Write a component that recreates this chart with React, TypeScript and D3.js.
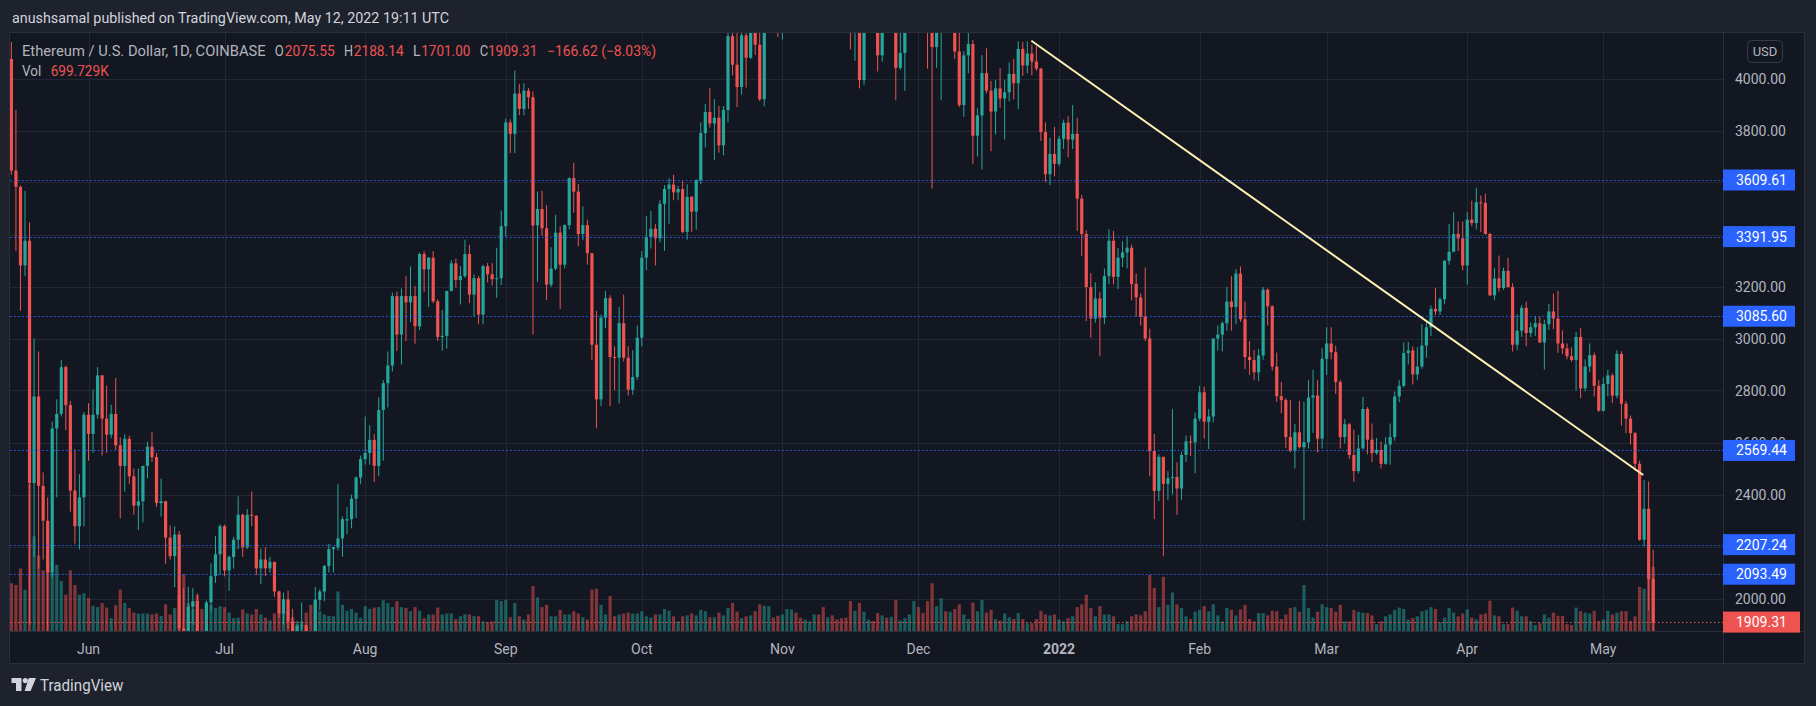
import React, { useEffect, useRef } from "react";
import * as d3 from "d3";

// ETH/USD daily candles (Coinbase).
// each row: open, high, low, close, volume (thousands)
type Bar = [number, number, number, number, number];

const may2021: Bar[] = [
  [4075, 4140, 3630, 3646, 520], [3646, 3879, 3336, 3583, 500], [3583, 3589, 3107, 3281, 680],
  [3281, 3568, 3240, 3376, 450], [3376, 3447, 1900, 2444, 1600], [2444, 3000, 2160, 2777, 1030],
  [2777, 2950, 2115, 2433, 820], [2433, 2485, 2150, 2299, 660], [2299, 2389, 1730, 2101, 800],
  [2101, 2681, 2080, 2654, 640], [2654, 2766, 2389, 2710, 720], [2710, 2917, 2700, 2890, 545],
  [2890, 2895, 2648, 2744, 395], [2744, 2760, 2334, 2415, 660], [2415, 2574, 2211, 2278, 500],
  [2278, 2478, 2189, 2389, 395], [2389, 2717, 2278, 2707, 410],
];
const jun2021: Bar[] = [
  [2707, 2751, 2530, 2633, 360], [2633, 2803, 2560, 2707, 275], [2707, 2890, 2692, 2858, 260],
  [2858, 2860, 2550, 2692, 305], [2692, 2818, 2560, 2630, 255], [2630, 2745, 2616, 2710, 140],
  [2710, 2848, 2572, 2589, 280], [2589, 2620, 2308, 2510, 450], [2510, 2632, 2411, 2614, 305],
  [2614, 2626, 2440, 2470, 250], [2470, 2500, 2322, 2357, 200], [2357, 2500, 2263, 2374, 190],
  [2374, 2510, 2293, 2510, 190], [2510, 2603, 2462, 2584, 190], [2584, 2640, 2525, 2544, 180],
  [2544, 2560, 2352, 2367, 190], [2367, 2461, 2315, 2374, 165], [2374, 2376, 2133, 2234, 290],
  [2234, 2281, 2150, 2163, 180], [2163, 2278, 2044, 2246, 250], [2246, 2260, 1870, 1885, 390],
  [1885, 2040, 1700, 1875, 620], [1875, 2045, 1860, 1968, 305], [1968, 2040, 1900, 1990, 240],
  [1990, 2020, 1800, 1830, 390], [1830, 1870, 1720, 1815, 240], [1815, 1992, 1800, 1985, 305],
  [1985, 2135, 1950, 2086, 285], [2086, 2240, 2060, 2170, 250], [2170, 2285, 2090, 2278, 270],
];
const jul2021: Bar[] = [
  [2278, 2284, 2085, 2108, 260], [2108, 2165, 2030, 2160, 200], [2160, 2237, 2115, 2226, 140],
  [2226, 2393, 2190, 2322, 145], [2322, 2327, 2160, 2197, 235], [2197, 2344, 2190, 2322, 190],
  [2322, 2411, 2278, 2318, 180], [2318, 2320, 2090, 2116, 240], [2116, 2192, 2056, 2150, 180],
  [2150, 2197, 2086, 2116, 145], [2116, 2160, 2100, 2141, 115], [2141, 2141, 2006, 2027, 190],
  [2027, 2030, 1925, 1942, 190], [1942, 2023, 1901, 1997, 210], [1997, 2030, 1885, 1912, 220],
  [1912, 1960, 1855, 1875, 150], [1875, 1915, 1855, 1895, 75], [1895, 1985, 1875, 1897, 105],
  [1897, 1900, 1805, 1820, 200], [1820, 1825, 1718, 1785, 285], [1785, 2045, 1760, 1995, 345],
  [1995, 2035, 1955, 2027, 215], [2027, 2130, 1990, 2125, 180], [2125, 2210, 2100, 2190, 165],
  [2190, 2200, 2100, 2197, 160], [2197, 2440, 2185, 2231, 430], [2231, 2315, 2160, 2305, 285],
  [2300, 2352, 2248, 2305, 220], [2305, 2400, 2270, 2384, 240], [2384, 2470, 2310, 2465, 200],
  [2465, 2550, 2440, 2536, 145],
];
const aug2021: Bar[] = [
  [2536, 2700, 2515, 2560, 270], [2560, 2666, 2515, 2610, 240], [2610, 2632, 2448, 2510, 255],
  [2510, 2774, 2470, 2725, 260], [2725, 2840, 2530, 2828, 335], [2828, 2950, 2735, 2896, 305],
  [2896, 3176, 2873, 3163, 260], [3163, 3180, 2952, 3015, 325], [3015, 3192, 2900, 3163, 260],
  [3163, 3240, 2990, 3139, 250], [3139, 3277, 3063, 3163, 215], [3163, 3202, 2980, 3047, 260],
  [3047, 3331, 3032, 3325, 220], [3325, 3336, 3180, 3266, 140], [3266, 3313, 3121, 3311, 180],
  [3311, 3336, 3136, 3143, 180], [3143, 3151, 2990, 3006, 255], [3006, 3110, 2953, 3010, 180],
  [3010, 3183, 2961, 3183, 190], [3183, 3302, 3181, 3289, 190], [3289, 3307, 3196, 3225, 130],
  [3225, 3278, 3131, 3240, 160], [3240, 3380, 3233, 3325, 180], [3325, 3360, 3136, 3169, 180],
  [3169, 3247, 3084, 3232, 165], [3232, 3240, 3055, 3092, 160], [3092, 3284, 3055, 3278, 105],
  [3278, 3290, 3216, 3247, 95], [3247, 3290, 3203, 3228, 105], [3228, 3349, 3157, 3232, 340],
  [3232, 3492, 3206, 3432, 325],
];
const sep2021: Bar[] = [
  [3432, 3846, 3391, 3831, 340], [3831, 3843, 3713, 3787, 150], [3787, 4031, 3713, 3942, 305],
  [3942, 3979, 3859, 3883, 160], [3883, 3982, 3859, 3953, 125], [3953, 3964, 3883, 3928, 180],
  [3928, 3950, 3015, 3435, 490], [3435, 3565, 3218, 3498, 365], [3498, 3568, 3395, 3424, 260],
  [3424, 3513, 3148, 3207, 285], [3207, 3351, 3198, 3269, 160], [3269, 3476, 3262, 3407, 160],
  [3407, 3432, 3114, 3284, 230], [3284, 3439, 3270, 3436, 180], [3436, 3620, 3420, 3617, 180],
  [3617, 3676, 3484, 3565, 215], [3565, 3594, 3355, 3402, 190], [3402, 3508, 3378, 3436, 150],
  [3436, 3457, 3284, 3328, 125], [3328, 3328, 2917, 2976, 450], [2976, 3106, 2655, 2766, 460],
  [2766, 3092, 2740, 3080, 285], [3080, 3183, 3040, 3155, 180], [3155, 3166, 2740, 2929, 380],
  [2929, 2970, 2801, 2926, 160], [2926, 3121, 2750, 3059, 180], [3059, 3169, 2912, 2926, 190],
  [2926, 2970, 2781, 2803, 200], [2803, 2955, 2784, 2852, 190], [2852, 3050, 2841, 3003, 190],
];
const oct2021: Bar[] = [
  [3003, 3337, 2970, 3311, 215], [3311, 3472, 3262, 3391, 160], [3391, 3491, 3346, 3422, 145],
  [3422, 3440, 3281, 3385, 180], [3385, 3533, 3370, 3518, 180], [3518, 3590, 3337, 3575, 240],
  [3575, 3616, 3441, 3592, 220], [3592, 3630, 3532, 3562, 160], [3562, 3587, 3532, 3575, 105],
  [3575, 3605, 3405, 3410, 160], [3410, 3593, 3380, 3545, 170], [3545, 3548, 3410, 3488, 190],
  [3488, 3612, 3418, 3609, 170], [3609, 3831, 3594, 3790, 230], [3790, 3902, 3735, 3871, 215],
  [3871, 3963, 3811, 3827, 150], [3827, 3920, 3687, 3849, 150], [3849, 3895, 3715, 3743, 200],
  [3743, 3894, 3705, 3879, 170], [3879, 4190, 3832, 4163, 250], [4163, 4375, 4012, 4053, 305],
  [4053, 4180, 3890, 3967, 210], [3967, 4180, 3938, 4166, 140], [4166, 4200, 3965, 4080, 160],
  [4080, 4230, 4075, 4220, 170], [4220, 4295, 4090, 4130, 215], [4130, 4300, 3913, 3920, 290],
  [3920, 4300, 3893, 4290, 275], [4290, 4460, 4270, 4420, 270], [4420, 4430, 4180, 4325, 145],
  [4325, 4400, 4160, 4290, 165],
];
const nov2021: Bar[] = [
  [4290, 4380, 4150, 4320, 180], [4320, 4600, 4300, 4590, 240], [4590, 4665, 4460, 4605, 235],
  [4605, 4620, 4440, 4530, 200], [4530, 4570, 4440, 4480, 145], [4480, 4530, 4330, 4520, 125],
  [4520, 4630, 4510, 4620, 105], [4620, 4830, 4610, 4810, 180], [4810, 4840, 4710, 4735, 180],
  [4735, 4870, 4460, 4635, 260], [4635, 4780, 4570, 4720, 150], [4720, 4810, 4500, 4665, 170],
  [4665, 4700, 4550, 4650, 125], [4650, 4690, 4520, 4625, 140], [4625, 4770, 4540, 4565, 145],
  [4565, 4570, 4112, 4215, 325], [4215, 4300, 4068, 4290, 220], [4290, 4345, 3962, 3994, 305],
  [3994, 4330, 3976, 4310, 210], [4310, 4440, 4200, 4425, 125], [4425, 4465, 4225, 4265, 110],
  [4265, 4300, 4027, 4089, 195], [4089, 4375, 4065, 4340, 170], [4340, 4370, 4180, 4270, 145],
  [4270, 4550, 4240, 4525, 155], [4525, 4550, 3916, 4041, 340], [4041, 4180, 4034, 4098, 115],
  [4098, 4300, 3953, 4295, 140], [4295, 4460, 4280, 4445, 180], [4445, 4780, 4430, 4635, 325],
];
const dec2021: Bar[] = [
  [4635, 4780, 4520, 4585, 260], [4585, 4610, 4430, 4510, 195], [4510, 4650, 4038, 4240, 325],
  [4240, 4240, 3577, 4121, 520], [4121, 4230, 4041, 4200, 270], [4200, 4350, 3916, 4350, 355],
  [4350, 4420, 4260, 4310, 215], [4310, 4440, 4180, 4430, 210], [4430, 4490, 4075, 4104, 240],
  [4104, 4230, 3890, 3898, 290], [3898, 4105, 3852, 4089, 180], [4089, 4180, 4020, 4133, 130],
  [4133, 4148, 3671, 3780, 310], [3780, 3886, 3700, 3858, 215], [3858, 4090, 3650, 4021, 340],
  [4021, 4116, 3943, 3953, 200], [3953, 3990, 3720, 3873, 230], [3873, 3995, 3785, 3962, 130],
  [3962, 4040, 3888, 3923, 115], [3923, 3995, 3765, 3947, 190], [3947, 4062, 3912, 4018, 150],
  [4018, 4075, 3920, 3982, 130], [3982, 4143, 3882, 4114, 195], [4114, 4141, 4010, 4050, 130],
  [4050, 4143, 4020, 4096, 85], [4096, 4130, 4012, 4065, 85], [4065, 4125, 4030, 4038, 130],
  [4038, 4041, 3760, 3794, 220], [3794, 3831, 3603, 3632, 180], [3632, 3772, 3590, 3710, 170],
  [3710, 3814, 3624, 3672, 180],
];
const jan2022: Bar[] = [
  [3672, 3780, 3663, 3768, 125], [3768, 3842, 3729, 3830, 105], [3830, 3855, 3697, 3765, 140],
  [3765, 3898, 3729, 3787, 160], [3787, 3849, 3414, 3538, 260], [3538, 3553, 3318, 3402, 290],
  [3402, 3416, 3067, 3198, 395], [3198, 3251, 3003, 3077, 250], [3077, 3216, 3061, 3154, 160],
  [3154, 3180, 2932, 3080, 270], [3080, 3269, 3055, 3240, 180], [3240, 3420, 3208, 3376, 180],
  [3376, 3414, 3208, 3237, 160], [3237, 3348, 3190, 3311, 75], [3311, 3374, 3275, 3331, 75],
  [3331, 3393, 3270, 3349, 105], [3349, 3361, 3147, 3210, 160], [3210, 3250, 3084, 3158, 180],
  [3158, 3173, 3050, 3084, 170], [3084, 3273, 2990, 3000, 215], [3000, 3038, 2470, 2567, 610],
  [2567, 2633, 2305, 2414, 470], [2414, 2555, 2375, 2545, 260], [2545, 2545, 2163, 2441, 590],
  [2441, 2490, 2380, 2463, 285], [2463, 2729, 2400, 2467, 420], [2467, 2524, 2322, 2423, 290],
  [2423, 2564, 2380, 2552, 250], [2552, 2627, 2525, 2604, 160], [2604, 2627, 2548, 2601, 130],
  [2601, 2715, 2482, 2692, 210],
];
const feb2022: Bar[] = [
  [2692, 2818, 2682, 2793, 230], [2793, 2815, 2615, 2680, 270], [2680, 2729, 2574, 2700, 215],
  [2700, 3000, 2678, 3000, 290], [3000, 3050, 2953, 3015, 170], [3015, 3065, 2950, 3059, 105],
  [3059, 3198, 3030, 3142, 250], [3142, 3240, 3030, 3121, 230], [3121, 3267, 3055, 3250, 170],
  [3250, 3277, 3064, 3074, 235], [3074, 3142, 2882, 2929, 285], [2929, 2990, 2860, 2917, 130],
  [2917, 2956, 2840, 2870, 105], [2870, 2960, 2836, 2935, 195], [2935, 3198, 2918, 3188, 195],
  [3188, 3192, 3050, 3124, 170], [3124, 3128, 2877, 2892, 220], [2892, 2946, 2757, 2778, 215],
  [2778, 2833, 2712, 2763, 130], [2763, 2770, 2578, 2621, 180], [2621, 2763, 2563, 2567, 250],
  [2567, 2671, 2500, 2639, 260], [2639, 2760, 2577, 2582, 210], [2582, 2757, 2300, 2601, 500],
  [2601, 2840, 2577, 2773, 250], [2773, 2880, 2637, 2781, 145], [2781, 2840, 2562, 2615, 210],
  [2615, 2962, 2577, 2922, 290],
];
const mar2022: Bar[] = [
  [2922, 3043, 2860, 2981, 260], [2981, 3043, 2920, 2947, 250], [2947, 2972, 2787, 2833, 210],
  [2833, 2840, 2577, 2621, 285], [2621, 2690, 2596, 2670, 105], [2670, 2675, 2537, 2552, 105],
  [2552, 2650, 2449, 2490, 230], [2490, 2629, 2481, 2577, 210], [2577, 2776, 2574, 2729, 200],
  [2729, 2736, 2555, 2611, 195], [2611, 2673, 2525, 2559, 170], [2559, 2618, 2552, 2571, 75],
  [2571, 2603, 2500, 2518, 105], [2518, 2621, 2515, 2592, 160], [2592, 2673, 2515, 2621, 180],
  [2621, 2796, 2607, 2777, 230], [2777, 2840, 2755, 2818, 255], [2818, 2985, 2812, 2944, 240],
  [2944, 2987, 2900, 2954, 125], [2954, 2969, 2823, 2862, 140], [2862, 2967, 2840, 2892, 160],
  [2892, 3055, 2884, 2973, 215], [2973, 3062, 2926, 3043, 230], [3043, 3128, 3010, 3114, 260],
  [3114, 3195, 3090, 3104, 240], [3104, 3158, 3090, 3151, 95], [3151, 3302, 3132, 3299, 145],
  [3299, 3440, 3284, 3334, 250], [3334, 3485, 3331, 3402, 200], [3402, 3450, 3337, 3385, 160],
  [3385, 3450, 3262, 3281, 190],
];
const apr2022: Bar[] = [
  [3281, 3485, 3207, 3457, 235], [3457, 3530, 3432, 3444, 145], [3444, 3580, 3420, 3524, 125],
  [3524, 3550, 3409, 3521, 180], [3521, 3557, 3400, 3402, 190], [3402, 3407, 3164, 3166, 330],
  [3166, 3272, 3147, 3231, 170], [3231, 3319, 3180, 3194, 160], [3194, 3272, 3187, 3260, 75],
  [3260, 3310, 3195, 3198, 75], [3198, 3213, 2950, 2976, 255], [2976, 3092, 2955, 3030, 220],
  [3030, 3128, 3006, 3118, 160], [3118, 3142, 2970, 3021, 160], [3021, 3062, 3006, 3043, 105],
  [3043, 3087, 3010, 3059, 65], [3059, 3084, 2982, 2985, 85], [2985, 3072, 2880, 3055, 180],
  [3055, 3133, 3033, 3104, 145], [3104, 3173, 3036, 3077, 200], [3077, 3183, 2945, 2981, 165],
  [2981, 3031, 2940, 2962, 165], [2962, 2981, 2920, 2932, 75], [2932, 2966, 2911, 2917, 65],
  [2917, 3025, 2800, 3006, 255], [3006, 3040, 2770, 2808, 215], [2808, 2920, 2797, 2892, 200],
  [2892, 2981, 2870, 2936, 190], [2936, 2946, 2777, 2818, 220], [2818, 2840, 2719, 2722, 110],
];
const may2022: Bar[] = [
  [2722, 2850, 2719, 2825, 125], [2825, 2880, 2777, 2858, 220], [2858, 2866, 2752, 2780, 180],
  [2780, 2955, 2770, 2941, 200], [2941, 2951, 2665, 2749, 215], [2749, 2759, 2636, 2692, 215],
  [2692, 2704, 2592, 2636, 110], [2636, 2641, 2490, 2518, 160], [2518, 2530, 2222, 2226, 480],
  [2226, 2455, 2200, 2345, 460], [2345, 2450, 1955, 2075, 600],
  [2075.55, 2188.14, 1701, 1909.31, 699.729],
];

// first day of each block
const blocks: [string, Bar[]][] = [
  ["2021-05-15", may2021], ["2021-06-01", jun2021], ["2021-07-01", jul2021],
  ["2021-08-01", aug2021], ["2021-09-01", sep2021], ["2021-10-01", oct2021],
  ["2021-11-01", nov2021], ["2021-12-01", dec2021], ["2022-01-01", jan2022],
  ["2022-02-01", feb2022], ["2022-03-01", mar2022], ["2022-04-01", apr2022],
  ["2022-05-01", may2022],
];

const priceTicks = [2000, 2200, 2400, 2600, 2800, 3000, 3200, 3400, 3600, 3800, 4000];
const monthTicks: [string, string][] = [
  ["2021-06-01", "Jun"], ["2021-07-01", "Jul"], ["2021-08-01", "Aug"], ["2021-09-01", "Sep"],
  ["2021-10-01", "Oct"], ["2021-11-01", "Nov"], ["2021-12-01", "Dec"], ["2022-01-01", "2022"],
  ["2022-02-01", "Feb"], ["2022-03-01", "Mar"], ["2022-04-01", "Apr"], ["2022-05-01", "May"],
];
const levels = [3609.61, 3391.95, 3085.6, 2569.44, 2207.24, 2093.49];
const lastPrice = 1909.31;
const trendPoints: [string, number][] = [
  ["2021-12-25T21:30:00Z", 4145],
  ["2022-05-09T19:30:00Z", 2475],
];

const UP = "#26a69a";
const DOWN = "#ef5350";
const FONT = "Roboto, 'Noto Sans', sans-serif";

const App = () => {
  const svgRef = useRef<SVGSVGElement | null>(null);

  useEffect(() => {
    document.body.style.margin = "0";
    const W = 1816, H = 706;
    const pane = { left: 10, top: 33, right: 1723, bottom: 631 };

    const svg = d3.select(svgRef.current);
    svg.selectAll("*").remove();
    svg.attr("width", W).attr("height", H);

    const candles = blocks.flatMap(([start, rows]) =>
      rows.map((r, i) => ({
        date: d3.utcDay.offset(new Date(start + "T00:00:00Z"), i),
        o: r[0], h: r[1], l: r[2], c: r[3], v: r[4],
      }))
    );

    const x = d3
      .scaleUtc()
      .domain([new Date("2021-06-01T00:00:00Z"), new Date("2022-05-01T00:00:00Z")])
      .range([88.5, 1603.3]);
    const y = d3.scaleLinear().domain([2000, 4000]).range([598.5, 78.5]);
    const vol = d3.scaleLinear().domain([0, 699.729]).range([0, 64.3]);

    // backgrounds
    svg.append("rect").attr("width", W).attr("height", H).attr("fill", "#1e222d");
    svg.append("rect")
      .attr("x", 9.5).attr("y", 32.5).attr("width", 1795).attr("height", 631)
      .attr("fill", "#131722").attr("stroke", "#2a2e39");

    const defs = svg.append("defs");
    defs.append("clipPath").attr("id", "pane")
      .append("rect")
      .attr("x", pane.left).attr("y", pane.top)
      .attr("width", pane.right - pane.left).attr("height", pane.bottom - pane.top);

    const g = svg.append("g").attr("clip-path", "url(#pane)");

    // grid
    g.selectAll("line.hg").data(priceTicks).join("line")
      .attr("x1", pane.left).attr("x2", pane.right)
      .attr("y1", (d) => Math.round(y(d)) + 0.5).attr("y2", (d) => Math.round(y(d)) + 0.5)
      .attr("stroke", "#232733");
    g.selectAll("line.vg").data(monthTicks).join("line")
      .attr("y1", pane.top).attr("y2", pane.bottom)
      .attr("x1", (d) => Math.round(x(new Date(d[0] + "T00:00:00Z"))) + 0.5)
      .attr("x2", (d) => Math.round(x(new Date(d[0] + "T00:00:00Z"))) + 0.5)
      .attr("stroke", "#232733");

    // volume
    g.append("g").selectAll("rect").data(candles).join("rect")
      .attr("x", (d) => x(d.date) - 1.6)
      .attr("width", 3.2)
      .attr("y", (d) => pane.bottom - vol(d.v))
      .attr("height", (d) => vol(d.v))
      .attr("fill", (d) => (d.c >= d.o ? UP : DOWN))
      .attr("fill-opacity", 0.5);

    // candles
    const cg = g.append("g").selectAll("g").data(candles).join("g");
    cg.append("line")
      .attr("x1", (d) => x(d.date)).attr("x2", (d) => x(d.date))
      .attr("y1", (d) => y(d.h)).attr("y2", (d) => y(d.l))
      .attr("stroke", (d) => (d.c >= d.o ? UP : DOWN))
      .attr("stroke-width", 1);
    cg.append("rect")
      .attr("x", (d) => x(d.date) - 1.6)
      .attr("width", 3.2)
      .attr("y", (d) => y(Math.max(d.o, d.c)))
      .attr("height", (d) => Math.max(1, Math.abs(y(d.o) - y(d.c))))
      .attr("fill", (d) => (d.c >= d.o ? UP : DOWN));

    // horizontal levels
    g.selectAll("line.lv").data(levels).join("line")
      .attr("x1", pane.left).attr("x2", pane.right)
      .attr("y1", (d) => Math.round(y(d)) + 0.5).attr("y2", (d) => Math.round(y(d)) + 0.5)
      .attr("stroke", "#2962ff").attr("stroke-dasharray", "1.5 2.5");

    // current price line
    g.append("line")
      .attr("x1", pane.left).attr("x2", pane.right)
      .attr("y1", Math.round(y(lastPrice)) + 0.5).attr("y2", Math.round(y(lastPrice)) + 0.5)
      .attr("stroke", DOWN).attr("stroke-dasharray", "1.5 2.5");

    // trend line
    const tl = d3.line<[string, number]>()
      .x((d) => x(new Date(d[0])))
      .y((d) => y(d[1]));
    g.append("path").attr("d", tl(trendPoints))
      .attr("stroke", "#fff3b3").attr("stroke-width", 2).attr("fill", "none");

    // axis separators
    svg.append("line").attr("x1", 1723.5).attr("x2", 1723.5).attr("y1", 33).attr("y2", 663)
      .attr("stroke", "#2a2e39");
    svg.append("line").attr("x1", 10).attr("x2", 1804).attr("y1", 631.5).attr("y2", 631.5)
      .attr("stroke", "#2a2e39");

    // price axis labels
    svg.selectAll("text.pt").data(priceTicks).join("text")
      .attr("x", 1735).attr("y", (d) => y(d) + 5)
      .attr("fill", "#b2b5be").attr("font-family", FONT).attr("font-size", 14)
      .text((d) => d.toFixed(2));

    const boxes = svg.append("g").selectAll("g").data(levels).join("g");
    boxes.append("rect")
      .attr("x", 1723).attr("width", 72).attr("y", (d) => y(d) - 10.5).attr("height", 21)
      .attr("fill", "#2962ff");
    boxes.append("text")
      .attr("x", 1736).attr("y", (d) => y(d) + 5)
      .attr("fill", "#ffffff").attr("font-family", FONT).attr("font-size", 14)
      .text((d) => d.toFixed(2));

    svg.append("rect").attr("x", 1723).attr("width", 77)
      .attr("y", y(lastPrice) - 10.5).attr("height", 21).attr("fill", DOWN);
    svg.append("text").attr("x", 1736).attr("y", y(lastPrice) + 5)
      .attr("fill", "#ffffff").attr("font-family", FONT).attr("font-size", 14)
      .text(lastPrice.toFixed(2));

    // time axis
    svg.selectAll("text.mt").data(monthTicks).join("text")
      .attr("x", (d) => x(new Date(d[0] + "T00:00:00Z")))
      .attr("y", 654)
      .attr("text-anchor", "middle")
      .attr("fill", "#b2b5be").attr("font-family", FONT).attr("font-size", 14)
      .attr("font-weight", (d) => (d[1] === "2022" ? "bold" : "normal"))
      .text((d) => d[1]);

    // USD badge
    svg.append("rect").attr("x", 1747.5).attr("y", 40.5).attr("width", 35).attr("height", 22)
      .attr("rx", 4).attr("fill", "none").attr("stroke", "#363a45");
    svg.append("text").attr("x", 1765).attr("y", 56).attr("text-anchor", "middle")
      .attr("fill", "#b2b5be").attr("font-family", FONT).attr("font-size", 13).text("USD");

    // header
    const txt = (s: string, px: number, py: number, w: number, color: string, size = 14) =>
      svg.append("text").attr("x", px).attr("y", py).attr("fill", color)
        .attr("font-family", FONT).attr("font-size", size)
        .attr("textLength", w).attr("lengthAdjust", "spacingAndGlyphs").text(s);

    txt("anushsamal published on TradingView.com, May 12, 2022 19:11 UTC", 12, 23, 437, "#d1d4dc");

    // legend
    txt("Ethereum / U.S. Dollar, 1D, COINBASE", 22, 56, 243.7, "#b2b5be");
    txt("O", 274.7, 56, 9, "#b2b5be");
    txt("2075.55", 284.7, 56, 50, DOWN);
    txt("H", 344, 56, 9, "#b2b5be");
    txt("2188.14", 353.7, 56, 50, DOWN);
    txt("L", 413, 56, 7.5, "#b2b5be");
    txt("1701.00", 421.3, 56, 49, DOWN);
    txt("C", 479.7, 56, 8.5, "#b2b5be");
    txt("1909.31", 488, 56, 49.3, DOWN);
    txt("\u2212166.62 (\u22128.03%)", 547, 56, 109, DOWN);
    txt("Vol", 22, 76, 19.3, "#b2b5be");
    txt("699.729K", 50.7, 76, 58, DOWN);

    // TradingView mark
    const logo = svg.append("g").attr("fill", "#d1d4dc");
    logo.append("path").attr("d", "M11.5 678 H21.5 V691 H16 V683 H11.5 Z");
    logo.append("circle").attr("cx", 25.3).attr("cy", 680.6).attr("r", 2.6);
    logo.append("path").attr("d", "M28.8 678 H36 L30.6 691 H24.6 Z");
    txt("TradingView", 40, 690.5, 83.4, "#d1d4dc", 16);
  }, []);

  return <svg ref={svgRef} style={{ display: "block" }}></svg>;
};

export default App;
